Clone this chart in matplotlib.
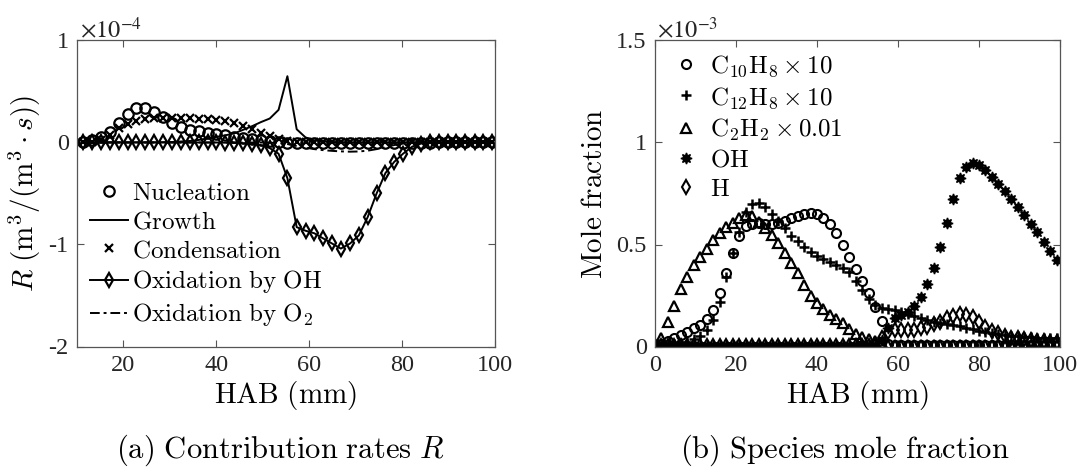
import matplotlib
matplotlib.use("Agg")
import matplotlib.pyplot as plt

plt.rcParams['font.family'] = ['Liberation Serif', 'DejaVu Serif']
plt.rcParams['mathtext.fontset'] = 'cm'
plt.rcParams['axes.unicode_minus'] = False

# ---------------- (a) Contribution rates (units of 1e-4) ----------------
hab_a = [11.3, 13.2, 15.1, 17.0, 19.0, 20.9, 22.8, 24.7, 26.6, 28.5, 30.5, 32.4, 34.3, 36.2,
         38.1, 40.0, 41.9, 43.9, 45.8, 47.7, 49.6, 51.5, 53.4, 55.3, 57.3, 59.2, 61.1, 63.0,
         64.9, 66.8, 68.8, 70.7, 72.6, 74.5, 76.4, 78.3, 80.2, 82.2, 84.1, 86.0, 87.9, 89.8,
         91.7, 93.6, 95.6, 97.5, 99.4]
nucleation = [0.007, 0.023, 0.056, 0.106, 0.194, 0.28, 0.335, 0.335, 0.30, 0.253, 0.194, 0.155,
              0.12, 0.11, 0.098, 0.085, 0.07, 0.055, 0.042, 0.03, 0.02, 0.01, 0.004, -0.003,
              -0.005, -0.005, -0.005, -0.005, -0.005, -0.005, -0.005, -0.005, -0.005, -0.005,
              -0.005, -0.005, -0.004, -0.003, -0.002, -0.001, 0.0, 0.0, 0.0, 0.0, 0.0, 0.0, 0.0]
growth = [0.002, 0.002, 0.002, 0.002, 0.002, 0.002, 0.002, 0.002, 0.002, 0.003, 0.005, 0.01,
          0.015, 0.025, 0.04, 0.055, 0.07, 0.09, 0.125, 0.16, 0.2, 0.235, 0.32, 0.65, 0.13,
          0.05, 0.02, 0.01, 0.005, 0.003, 0.002, 0.002, 0.002, 0.002, 0.002, 0.002, 0.002,
          0.002, 0.002, 0.002, 0.002, 0.002, 0.002, 0.002, 0.002, 0.002, 0.002]
condensation = [0.0, 0.005, 0.02, 0.07, 0.14, 0.18, 0.21, 0.235, 0.245, 0.245, 0.24, 0.245,
                0.24, 0.235, 0.23, 0.225, 0.215, 0.195, 0.165, 0.13, 0.095, 0.06, 0.035, 0.01,
                0.0, 0.0, 0.0, 0.0, 0.0, 0.0, 0.0, 0.0, 0.0, 0.0, 0.0, 0.0, 0.0, 0.0, 0.0, 0.0,
                0.0, 0.0, 0.0, 0.0, 0.0, 0.0, 0.0]
ox_oh = [0.0, 0.0, 0.0, 0.0, 0.0, 0.0, 0.0, 0.0, 0.0, 0.0, 0.0, 0.0, 0.0, 0.0, 0.0, 0.0,
         -0.002, -0.004, -0.007, -0.012, -0.025, -0.055, -0.11, -0.35, -0.83, -0.865, -0.89,
         -0.94, -0.99, -1.04, -0.99, -0.91, -0.73, -0.50, -0.30, -0.19, -0.11, -0.04, -0.01,
         0.0, 0.0, 0.0, 0.0, 0.0, 0.0, 0.0, 0.0]
ox_o2 = [0.0, 0.0, 0.0, 0.0, 0.0, 0.0, 0.0, 0.0, 0.0, 0.0, 0.0, 0.0, 0.0, 0.0, 0.0, 0.0,
         0.0, 0.0, 0.0, 0.0, 0.0, -0.002, -0.005, -0.015, -0.035, -0.05, -0.065, -0.075,
         -0.082, -0.087, -0.09, -0.088, -0.08, -0.065, -0.045, -0.025, -0.01, -0.003, 0.0,
         0.0, 0.0, 0.0, 0.0, 0.0, 0.0, 0.0, 0.0]

# ---------------- (b) Species mole fraction (units of 1e-3) ----------------
hab_b = [0.0, 1.6, 3.2, 4.8, 6.4, 8.0, 9.6, 11.2, 12.8, 14.4, 16.0, 17.6, 19.2, 20.8, 22.4,
         24.0, 25.6, 27.2, 28.8, 30.4, 32.0, 33.6, 35.2, 36.8, 38.4, 40.0, 41.6, 43.2, 44.8,
         46.4, 48.0, 49.6, 51.2, 52.8, 54.4, 56.0, 57.6, 59.2, 60.8, 62.4, 64.0, 65.6, 67.2,
         68.8, 70.4, 72.0, 73.6, 75.2, 76.8, 78.4, 80.0, 81.6, 83.2, 84.8, 86.4, 88.0, 89.6,
         91.2, 92.8, 94.4, 96.0, 97.6, 99.2]
c10h8 = [0.005, 0.01, 0.025, 0.04, 0.056, 0.07, 0.09, 0.105, 0.135, 0.18, 0.26, 0.36, 0.46,
         0.54, 0.59, 0.60, 0.605, 0.60, 0.60, 0.605, 0.615, 0.63, 0.64, 0.65, 0.655, 0.65,
         0.628, 0.60, 0.555, 0.50, 0.44, 0.38, 0.32, 0.26, 0.195, 0.125, 0.01, 0.005, 0.005,
         0.005, 0.005, 0.005, 0.005, 0.005, 0.005, 0.005, 0.005, 0.005, 0.005, 0.005, 0.005,
         0.005, 0.005, 0.005, 0.005, 0.005, 0.005, 0.005, 0.005, 0.005, 0.005, 0.005, 0.005]
c12h8 = [0.0, 0.003, 0.006, 0.01, 0.015, 0.022, 0.035, 0.05, 0.08, 0.13, 0.22, 0.34, 0.46,
         0.56, 0.66, 0.70, 0.705, 0.685, 0.65, 0.615, 0.58, 0.54, 0.515, 0.49, 0.465, 0.445,
         0.43, 0.415, 0.40, 0.385, 0.365, 0.32, 0.275, 0.235, 0.205, 0.187, 0.182, 0.18, 0.17,
         0.16, 0.15, 0.138, 0.13, 0.12, 0.117, 0.11, 0.104, 0.10, 0.093, 0.085, 0.077, 0.069,
         0.064, 0.059, 0.055, 0.052, 0.05, 0.047, 0.047, 0.044, 0.044, 0.044, 0.044]
c2h2 = [0.01, 0.04, 0.12, 0.20, 0.28, 0.34, 0.40, 0.44, 0.48, 0.52, 0.555, 0.587, 0.607,
        0.628, 0.645, 0.64, 0.61, 0.58, 0.547, 0.506, 0.46, 0.41, 0.36, 0.30, 0.25, 0.215,
        0.185, 0.155, 0.135, 0.115, 0.085, 0.06, 0.045, 0.035, 0.025, 0.015, 0.008, 0.005,
        0.005, 0.005, 0.005, 0.005, 0.005, 0.005, 0.005, 0.005, 0.005, 0.005, 0.005, 0.005,
        0.005, 0.005, 0.005, 0.005, 0.005, 0.005, 0.005, 0.005, 0.005, 0.005, 0.005, 0.005,
        0.005]
oh = [0.003, 0.003, 0.003, 0.003, 0.003, 0.003, 0.003, 0.003, 0.003, 0.003, 0.003, 0.003,
      0.003, 0.003, 0.003, 0.003, 0.003, 0.003, 0.003, 0.003, 0.003, 0.003, 0.003, 0.003,
      0.003, 0.003, 0.003, 0.003, 0.003, 0.003, 0.003, 0.003, 0.003, 0.003, 0.003, 0.03,
      0.09, 0.138, 0.154, 0.17, 0.198, 0.244, 0.305, 0.383, 0.489, 0.607, 0.723, 0.824, 0.881,
      0.901, 0.89, 0.865, 0.832, 0.795, 0.762, 0.723, 0.685, 0.645, 0.60, 0.56, 0.514, 0.47,
      0.424]
h = [0.003, 0.003, 0.003, 0.003, 0.003, 0.003, 0.003, 0.003, 0.003, 0.003, 0.003, 0.003,
     0.003, 0.003, 0.003, 0.003, 0.003, 0.003, 0.003, 0.003, 0.003, 0.003, 0.003, 0.003,
     0.003, 0.003, 0.003, 0.003, 0.003, 0.003, 0.003, 0.003, 0.003, 0.003, 0.003, 0.04,
     0.073, 0.08, 0.08, 0.08, 0.083, 0.089, 0.097, 0.11, 0.122, 0.138, 0.15, 0.158, 0.155,
     0.143, 0.122, 0.097, 0.077, 0.064, 0.051, 0.044, 0.04, 0.035, 0.031, 0.028, 0.025,
     0.023, 0.022]

xticks_a = [20, 40, 60, 80, 100]
yticks_a = [1, 0, -1, -2]
xticks_b = [0, 20, 40, 60, 80, 100]
yticks_b = [0, 0.5, 1, 1.5]
yticklabels_b = ['0', '0.5', '1', '1.5']

# ---------------- figure ----------------
W, H = 1083, 470
fig = plt.figure(figsize=(W / 100, H / 100), dpi=100)

def fbox(x0, x1, ytop, ybot):
    return [x0 / W, 1 - ybot / H, (x1 - x0) / W, (ybot - ytop) / H]

axA = fig.add_axes(fbox(77, 495, 40.5, 346.5))
axB = fig.add_axes(fbox(655, 1060, 40.5, 346.5))

K = 'black'
TICK_FS = 17.5
LAB_FS = 21
LEG_FS = 18
SPINE = '#555555'

# panel a
axA.plot(hab_a, nucleation, ls='none', marker='o', ms=7.5, mfc='none', mec=K, mew=1.6,
         label=r'$\mathrm{Nucleation}$')
axA.plot(hab_a, growth, ls='-', color=K, lw=1.4, label=r'$\mathrm{Growth}$')
axA.plot(hab_a, condensation, ls='none', marker='x', ms=6, mec=K, mew=1.6,
         label=r'$\mathrm{Condensation}$')
axA.plot(hab_a, ox_oh, ls='-', color=K, lw=1.4, marker='d', ms=7.2, mfc='none', mec=K,
         mew=1.6, label=r'$\mathrm{Oxidation\ by\ OH}$')
axA.plot(hab_a, ox_o2, ls=(0, (5, 2, 1.5, 2)), color=K, lw=1.4,
         label=r'$\mathrm{Oxidation\ by\ O_2}$')
axA.set_xlim(10, 100)
axA.set_ylim(-2, 1)
axA.set_xticks(xticks_a)
axA.set_yticks(yticks_a)
axA.set_yticklabels([str(v) for v in yticks_a])
axA.set_xlabel(r'$\mathrm{HAB\ (mm)}$', fontsize=LAB_FS, labelpad=2)
axA.set_ylabel(r'$R\ (\mathrm{m}^3/(\mathrm{m}^3\cdot s))$', fontsize=LAB_FS, labelpad=4)
axA.legend(loc='upper left', bbox_to_anchor=(90 / W, 1 - 182 / H),
           bbox_transform=fig.transFigure, frameon=False, fontsize=LEG_FS,
           handlelength=1.5, handletextpad=0.2, labelspacing=0.25, borderpad=0,
           borderaxespad=0)

# panel b
axB.plot(hab_b, c10h8, ls='none', marker='o', ms=6.5, mfc='none', mec=K, mew=1.5,
         label=r'$\mathrm{C_{10}H_8}\times10$')
axB.plot(hab_b, c12h8, ls='none', marker='+', ms=7.5, mec=K, mew=1.8,
         label=r'$\mathrm{C_{12}H_8}\times10$')
axB.plot(hab_b, c2h2, ls='none', marker='^', ms=7.5, mfc='none', mec=K, mew=1.6,
         label=r'$\mathrm{C_2H_2}\times0.01$')
axB.plot(hab_b, oh, ls='none', marker=(8, 1, 0), ms=8, mfc=K, mec=K, mew=1.0,
         label=r'$\mathrm{OH}$')
axB.plot(hab_b, h, ls='none', marker='d', ms=7, mfc='none', mec=K, mew=1.5,
         label=r'$\mathrm{H}$')
axB.set_xlim(0, 100)
axB.set_ylim(0, 1.5)
axB.set_xticks(xticks_b)
axB.set_yticks(yticks_b)
axB.set_yticklabels(yticklabels_b)
axB.set_xlabel(r'$\mathrm{HAB\ (mm)}$', fontsize=LAB_FS, labelpad=2)
axB.set_ylabel(r'$\mathrm{Mole\ fraction}$', fontsize=LAB_FS, labelpad=6)
axB.legend(loc='upper left', bbox_to_anchor=(667 / W, 1 - 53 / H),
           bbox_transform=fig.transFigure, frameon=False, fontsize=LEG_FS,
           handlelength=1.5, handletextpad=0.2, labelspacing=0.25, borderpad=0,
           borderaxespad=0)

for ax in (axA, axB):
    ax.tick_params(direction='in', top=True, right=True, length=5, width=0.8,
                   color=SPINE, labelsize=TICK_FS, labelcolor='#262626', pad=6)
    for s in ax.spines.values():
        s.set_color(SPINE)
        s.set_linewidth(0.9)

# exponent multipliers
fig.text(80 / W, 1 - 30 / H, r'$\times10^{\mathrm{-}4}$', fontsize=TICK_FS,
         math_fontfamily='stix', color='#262626', va='center', ha='left')
fig.text(657 / W, 1 - 30 / H, r'$\times10^{\mathrm{-}3}$', fontsize=TICK_FS,
         math_fontfamily='stix', color='#262626', va='center', ha='left')

# captions
fig.text(280 / W, 1 - 450 / H, r'$\mathrm{(a)\ Contribution\ rates\ }R$', fontsize=22,
         ha='center', va='center')
fig.text(845 / W, 1 - 450 / H, r'$\mathrm{(b)\ Species\ mole\ fraction}$', fontsize=22,
         ha='center', va='center')

fig.savefig('out.png', dpi=100)
